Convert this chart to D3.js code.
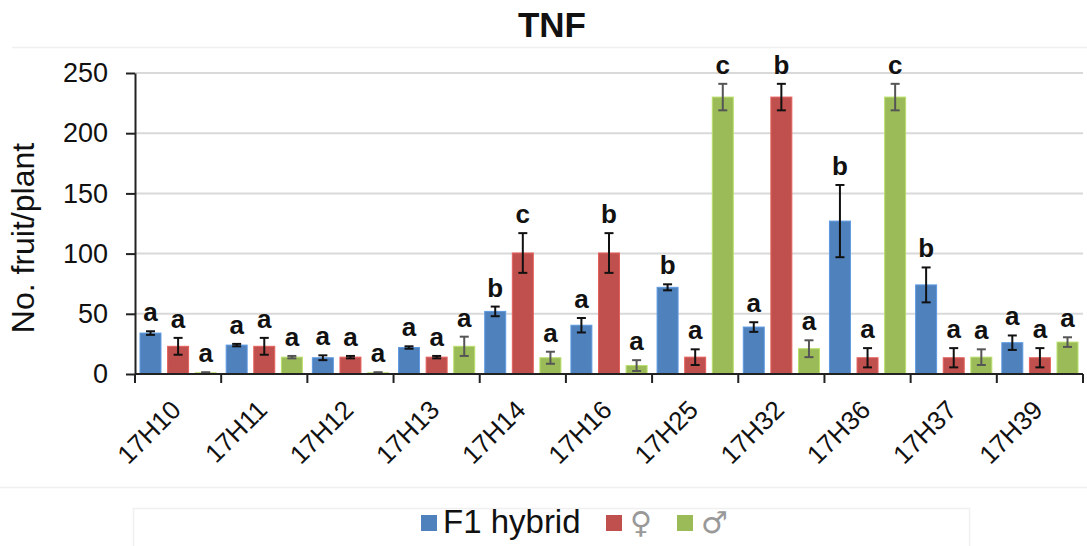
<!DOCTYPE html>
<html>
<head>
<meta charset="utf-8">
<title>TNF</title>
<script src="https://d3js.org/d3.v7.min.js"></script>
<style>
  body { margin: 0; background: #fff; }
  svg { display: block; font-family: "Liberation Sans", Arial, sans-serif; }
</style>
</head>
<body>
<script>
// data
var lines = ["17H10", "17H11", "17H12", "17H13", "17H14", "17H16", "17H25", "17H32", "17H36", "17H37", "17H39"];
var seriesNames = ["F1 hybrid", "\u2640", "\u2642"];
var hybridMean = [34, 24, 13.5, 22, 52, 40.5, 72, 39, 127, 74, 26];
var hybridErr  = [1.5, 1, 2, 1, 4, 6, 2.5, 4, 30, 14.5, 6];
var femaleMean = [23, 23, 14, 14, 100.5, 100.5, 14, 230, 13.5, 13.5, 13.5];
var femaleErr  = [7, 7, 1, 1, 16.5, 16.5, 6.5, 11, 8, 8, 8];
var maleMean   = [1, 14, 1, 23, 13.5, 7, 230, 21, 230, 14, 26.5];
var maleErr    = [0.5, 1, 0.5, 8, 5, 4.5, 11, 7, 11, 6.5, 4];
var hybridLetters = ["a", "a", "a", "a", "b", "a", "b", "a", "b", "b", "a"];
var femaleLetters = ["a", "a", "a", "a", "c", "b", "a", "b", "a", "a", "a"];
var maleLetters   = ["a", "a", "a", "a", "a", "a", "c", "a", "c", "a", "a"];
var yTicks = [0, 50, 100, 150, 200, 250];

var colors = ["#4f81bd", "#c0504d", "#9bbb59"];
var errColors = ["#111", "#111", "#555"];

var means = [hybridMean, femaleMean, maleMean];
var errs = [hybridErr, femaleErr, maleErr];
var letters = [hybridLetters, femaleLetters, maleLetters];

var W = 1087, H = 546;
var mLeft = 135, mRight = 1083, mTop = 73, mBottom = 374;

var svg = d3.select("body").append("svg")
    .attr("width", W)
    .attr("height", H);

svg.append("rect").attr("width", W).attr("height", H).attr("fill", "#fff");

// faint frame lines from the original export
svg.append("line").attr("x1", 12).attr("x2", W).attr("y1", 47.5).attr("y2", 47.5)
    .attr("stroke", "#f0f0f0").attr("stroke-width", 1.5);
svg.append("line").attr("x1", 0).attr("x2", W).attr("y1", 487.5).attr("y2", 487.5)
    .attr("stroke", "#f0f0f0").attr("stroke-width", 1.5);
svg.append("rect").attr("x", 133.5).attr("y", 508.5).attr("width", 836).attr("height", 60)
    .attr("fill", "none").attr("stroke", "#f0f0f0").attr("stroke-width", 1.5);

var x0 = d3.scaleBand().domain(lines).range([mLeft, mRight]).padding(0);
var bw = x0.bandwidth();
var x1 = d3.scaleBand().domain(d3.range(3)).range([5, bw - 5]).paddingInner(0.24);
var y = d3.scaleLinear().domain([0, 250]).range([mBottom, mTop]);

// gridlines
svg.append("g").selectAll("line")
    .data(yTicks.slice(1))
    .enter().append("line")
    .attr("x1", mLeft).attr("x2", mRight)
    .attr("y1", function(d) { return y(d); })
    .attr("y2", function(d) { return y(d); })
    .attr("stroke", "#d9d9d9")
    .attr("stroke-width", 2);

// bars
var rows = [];
lines.forEach(function(l, i) {
  for (var s = 0; s < 3; s++) {
    rows.push({line: l, s: s, v: means[s][i], e: errs[s][i], t: letters[s][i]});
  }
});

var g = svg.append("g");
g.selectAll("rect.bar")
    .data(rows)
    .enter().append("rect")
    .attr("class", "bar")
    .attr("x", function(d) { return x0(d.line) + x1(d.s); })
    .attr("y", function(d) { return y(d.v); })
    .attr("width", x1.bandwidth())
    .attr("height", function(d) { return y(0) - y(d.v); })
    .attr("fill", function(d) { return colors[d.s]; })
    .attr("stroke", function(d) { return d3.color(colors[d.s]).brighter(0.5); })
    .attr("stroke-width", 1);

// error bars
var eb = g.selectAll("g.err")
    .data(rows)
    .enter().append("g")
    .attr("class", "err")
    .attr("stroke", function(d) { return errColors[d.s]; })
    .attr("stroke-width", 2);
eb.append("line")
    .attr("x1", function(d) { return x0(d.line) + x1(d.s) + x1.bandwidth() / 2; })
    .attr("x2", function(d) { return x0(d.line) + x1(d.s) + x1.bandwidth() / 2; })
    .attr("y1", function(d) { return y(d.v - d.e); })
    .attr("y2", function(d) { return y(d.v + d.e); });
[-1, 1].forEach(function(sign) {
  eb.append("line")
    .attr("x1", function(d) { return x0(d.line) + x1(d.s) + x1.bandwidth() / 2 - 4.5; })
    .attr("x2", function(d) { return x0(d.line) + x1(d.s) + x1.bandwidth() / 2 + 4.5; })
    .attr("y1", function(d) { return y(d.v + sign * d.e); })
    .attr("y2", function(d) { return y(d.v + sign * d.e); });
});

// significance letters
g.selectAll("text.sig")
    .data(rows)
    .enter().append("text")
    .attr("class", "sig")
    .attr("x", function(d) { return x0(d.line) + x1(d.s) + x1.bandwidth() / 2; })
    .attr("y", function(d) { return y(d.v + d.e) - 10; })
    .attr("text-anchor", "middle")
    .attr("font-size", 26)
    .attr("font-weight", "bold")
    .attr("fill", "#111")
    .text(function(d) { return d.t; });

// y axis
var yAxis = svg.append("g")
    .attr("transform", "translate(" + mLeft + ",0)")
    .call(d3.axisLeft(y).tickValues(yTicks).tickSize(9).tickSizeOuter(0).tickPadding(18));
yAxis.selectAll("text").attr("font-size", 27).attr("fill", "#111").attr("font-family", "Liberation Sans, Arial, sans-serif");
yAxis.selectAll("line, path").attr("stroke", "#222").attr("stroke-width", 2);

// x axis
var xAxis = svg.append("g")
    .attr("transform", "translate(0," + mBottom + ")");
xAxis.append("line").attr("x1", mLeft).attr("x2", mRight).attr("stroke", "#222").attr("stroke-width", 2);
xAxis.selectAll("line.tick")
    .data(lines.concat(["end"]))
    .enter().append("line")
    .attr("class", "tick")
    .attr("x1", function(d) { return d === "end" ? mRight : x0(d); })
    .attr("x2", function(d) { return d === "end" ? mRight : x0(d); })
    .attr("y1", 0).attr("y2", 9)
    .attr("stroke", "#222").attr("stroke-width", 2);
xAxis.selectAll("text")
    .data(lines)
    .enter().append("text")
    .attr("transform", function(d) { return "translate(" + (x0(d) + bw / 2 - 2) + ",31) rotate(-45)"; })
    .attr("text-anchor", "end")
    .attr("dy", "0.35em")
    .attr("font-size", 26)
    .attr("fill", "#111")
    .text(function(d) { return d; });

// titles
svg.append("text")
    .attr("x", 552).attr("y", 37)
    .attr("text-anchor", "middle")
    .attr("font-size", 35)
    .attr("font-weight", "bold")
    .attr("fill", "#111")
    .text("TNF");

svg.append("text")
    .attr("transform", "translate(34,238) rotate(-90)")
    .attr("text-anchor", "middle")
    .attr("font-size", 32)
    .attr("fill", "#111")
    .text("No. fruit/plant");

// legend
var legX = [421, 606, 677];
var leg = svg.append("g").selectAll("g")
    .data(seriesNames)
    .enter().append("g")
    .attr("transform", function(d, i) { return "translate(" + legX[i] + ",515)"; });
leg.append("rect")
    .attr("width", 16).attr("height", 16)
    .attr("fill", function(d, i) { return colors[i]; });
leg.append("text")
    .attr("x", function(d, i) { return i === 0 ? 22 : 24; })
    .attr("y", 18)
    .attr("font-size", function(d, i) { return i === 0 ? 33 : 30; })
    .attr("font-family", function(d, i) { return i === 0 ? "Liberation Sans, Arial, sans-serif" : "DejaVu Sans, sans-serif"; })
    .attr("fill", function(d, i) { return i === 0 ? "#111" : "#999"; })
    .text(function(d) { return d; });
</script>
</body>
</html>
